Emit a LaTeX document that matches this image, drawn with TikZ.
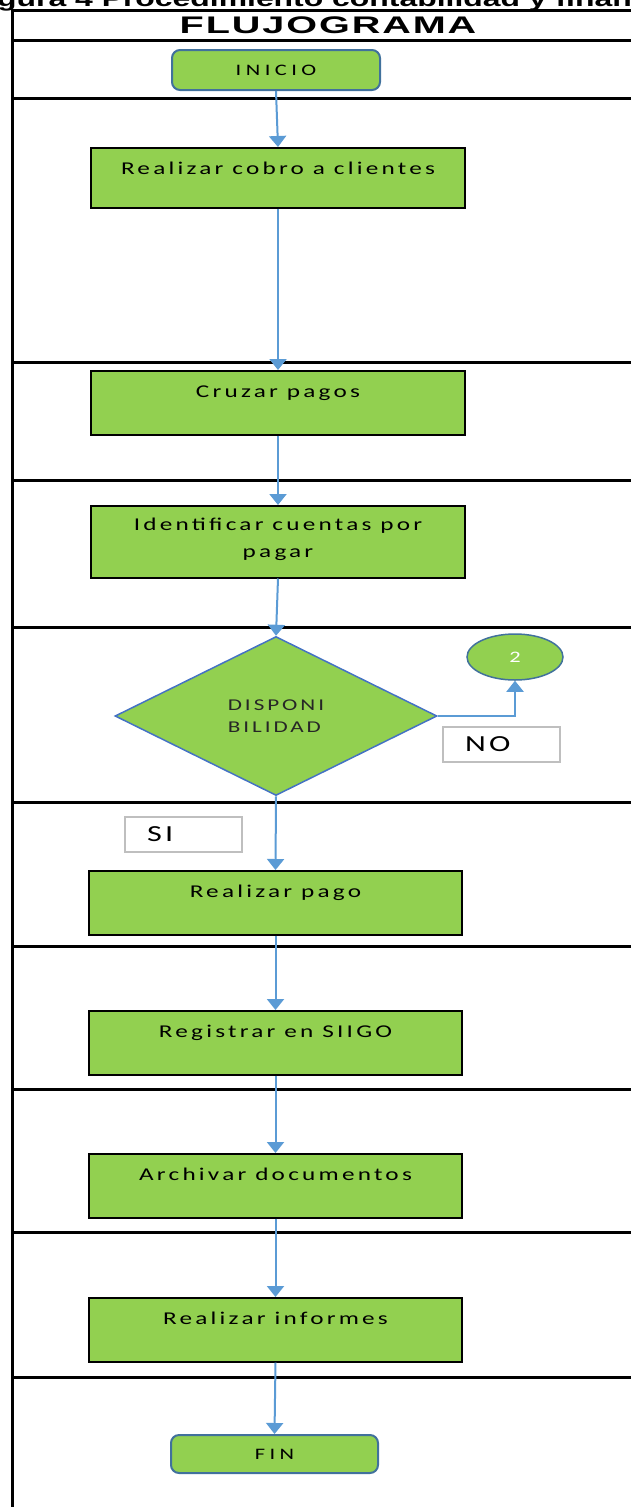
\documentclass[tikz,border=0pt]{standalone}
\usepackage{fontspec}
\setmainfont[FakeStretch=1.4]{Carlito}
\newfontfamily\fcaja[FakeStretch=1.4,LetterSpace=18]{Carlito}
\newfontfamily\fterm[FakeStretch=1.4,LetterSpace=28]{Carlito}
\newfontfamily\frombo[FakeStretch=1.4,LetterSpace=18]{Carlito}
\newfontfamily\fetiq[FakeStretch=1.4,LetterSpace=14]{Carlito}
\newfontfamily\ftit[FakeStretch=1.65,LetterSpace=8]{Liberation Sans}
\newfontfamily\fcap[FakeStretch=1.45]{Liberation Sans}
\usetikzlibrary{%
  arrows.meta,%
  shapes.geometric,% wg. diamond, ellipse
  positioning%
}
\definecolor{verde}{HTML}{92D050}
\definecolor{flecha}{HTML}{5B9BD5}
\definecolor{borde}{HTML}{41719C}
\definecolor{rombo}{HTML}{4472C4}
\definecolor{gris}{HTML}{BFBFBF}
\definecolor{oscuro}{HTML}{262626}

\tikzset{
  marco/.style={line width=3pt,black},
  paso/.style={draw=black,line width=1.5pt,fill=verde,minimum width=374pt,
    inner sep=0pt,text height=27pt,text depth=37pt,
    font=\fcaja\fontsize{18pt}{27pt}\selectfont},
  term/.style={draw=borde,line width=2pt,fill=verde,rounded corners=8pt,
    minimum width=208pt,minimum height=40pt,inner sep=0pt,
    font=\fterm\fontsize{16pt}{20pt}\selectfont},
  decision/.style={diamond,draw=rombo,line width=1.5pt,fill=verde,inner sep=0pt,
    minimum width=322pt,minimum height=159pt,align=left,text=oscuro,
    font=\frombo\fontsize{16.5pt}{22pt}\selectfont},
  conector/.style={ellipse,draw=borde,line width=1.5pt,fill=verde,inner sep=0pt,
    minimum width=96pt,minimum height=46pt,text=white,
    font=\fontsize{16pt}{20pt}\selectfont},
  etiq/.style={draw=gris,line width=1.5pt,fill=white,minimum height=35pt,
    text width=73pt,inner xsep=22pt,inner ysep=0pt,align=left,
    font=\fetiq\fontsize{23pt}{26pt}\selectfont},
  flujo/.style={draw=flecha,line width=2pt,-{Triangle[length=11pt,width=17pt]}},
}

\begin{document}
\begin{tikzpicture}[x=1pt,y=-1pt]
\useasboundingbox (0,0) rectangle (631,1507);

% cuadro
\node[anchor=base west,inner sep=0pt,font=\fcap\bfseries\fontsize{22pt}{26pt}\selectfont]
  (cap) at (-3,6.5) {gura 4 Procedimiento contabilidad y finan};
\draw[marco] (640,10) -- (12,10) -- (12,1512);
\foreach \y in {40,98,362,480,627,802,946,1089,1232,1377} {
  \draw[marco] (12,\y) -- (640,\y);
}
\node[font=\ftit\bfseries\fontsize{24pt}{28pt}\selectfont] (tit) at (328,25) {FLUJOGRAMA};

% pasos
\node[term] (inicio) at (276,70) {INICIO};
\node[paso,anchor=north,text depth=33pt] (cobro) at (278,147) {Realizar cobro a clientes};
\node[paso,anchor=north] (cruzar) at (278,370) {Cruzar pagos};
\node[paso,anchor=north,text height=25pt,text depth=47pt] (identificar) at (278,505)
  {\parbox[t]{350pt}{\centering Identificar cuentas por\\pagar}};
\node[decision] (disp) at (276,716) {DISPONI\\BILIDAD};
\node[conector] (dos) at (515,657) {2};
\node[etiq] (no) at (501.5,744.5) {NO};
\node[etiq] (si) at (183.5,834.5) {SI};
\node[paso,anchor=north,minimum width=373pt] (pago) at (275.5,870) {Realizar pago};
\node[paso,anchor=north,minimum width=373pt] (registrar) at (275.5,1010) {Registrar en SIIGO};
\node[paso,anchor=north,minimum width=373pt] (archivar) at (275.5,1153) {Archivar documentos};
\node[paso,anchor=north,minimum width=373pt] (informes) at (275.5,1297) {Realizar informes};
\node[term,minimum width=207pt,minimum height=38pt] (fin) at (274.5,1454) {FIN};

% flechas
\draw[flujo] (inicio.south) -- (cobro.north);
\draw[flujo] (cobro.south) -- (cruzar.north);
\draw[flujo] (cruzar.south) -- (identificar.north);
\draw[flujo] (identificar.south) -- (disp.north);
\draw[flujo] (disp.east) -| (dos.south);
\draw[flujo] (disp.south) -- (pago.north);
\draw[flujo] (pago.south) -- (registrar.north);
\draw[flujo] (registrar.south) -- (archivar.north);
\draw[flujo] (archivar.south) -- (informes.north);
\draw[flujo] (informes.south) -- (fin.north);
\end{tikzpicture}
\end{document}
